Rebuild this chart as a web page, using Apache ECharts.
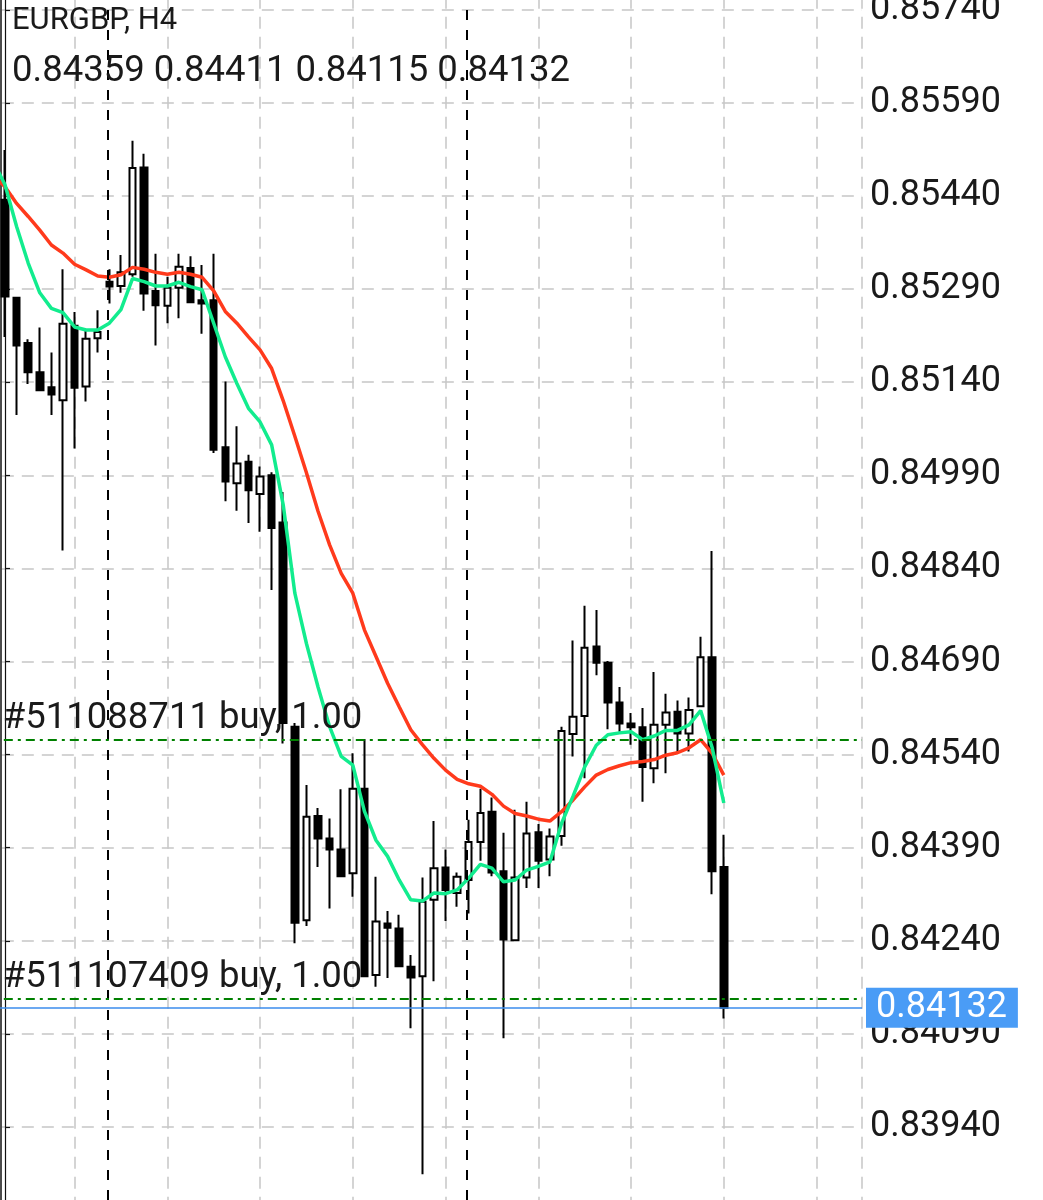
<!DOCTYPE html>
<html>
<head>
<meta charset="utf-8">
<script src="https://cdn.jsdelivr.net/npm/echarts@6/dist/echarts.min.js"></script>
<style>
html,body{margin:0;padding:0;background:#ffffff;}
#chart{width:1043px;height:1200px;}
</style>
</head>
<body>
<div id="chart"></div>
<script>
// ---- data (EURGBP H4) ----
const symbolTitle = 'EURGBP, H4';

const opens = [0.85434,0.85276,0.85203,0.85156,0.85132,0.85111,0.85231,0.85133,0.85211,0.85302,
0.85295,0.85314,0.85486,0.85287,0.85263,0.85292,0.85324,0.85272,0.85272,0.85035,
0.84977,0.85012,0.84960,0.84990,0.84914,0.84585,0.84273,0.84441,0.84405,0.84387,
0.84349,0.84485,0.84185,0.84268,0.84260,0.84198,0.84183,0.84306,0.84358,0.84317,
0.84338,0.84399,0.84448,0.84352,0.84241,0.84342,0.84415,0.84371,0.84409,0.84573,
0.84602,0.84714,0.84688,0.84624,0.84590,0.84584,0.84518,0.84588,0.84609,0.84574,
0.84618,0.84697,0.84359];
const highs = [0.85514,0.85277,0.85209,0.85228,0.85188,0.85322,0.85253,0.85224,0.85256,0.85322,
0.85345,0.85529,0.85508,0.85347,0.85310,0.85347,0.85343,0.85329,0.85347,0.85141,
0.85069,0.85023,0.85004,0.84995,0.84963,0.84591,0.84491,0.84454,0.84437,0.84484,
0.84542,0.84565,0.84343,0.84288,0.84282,0.84217,0.84342,0.84433,0.84387,0.84350,
0.84435,0.84485,0.84471,0.84414,0.84451,0.84464,0.84428,0.84421,0.84585,0.84724,
0.84780,0.84773,0.84691,0.84649,0.84607,0.84615,0.84673,0.84638,0.84627,0.84632,
0.84730,0.84868,0.84411];
const lows = [0.85213,0.85087,0.85137,0.85126,0.85087,0.84869,0.85033,0.85109,0.85188,0.85267,
0.85284,0.85310,0.85255,0.85199,0.85235,0.85243,0.85268,0.85218,0.85026,0.84948,
0.84933,0.84913,0.84899,0.84805,0.84558,0.84236,0.84264,0.84359,0.84292,0.84343,
0.84311,0.84182,0.84166,0.84180,0.84198,0.84099,0.83864,0.84175,0.84272,0.84295,
0.84284,0.84369,0.84344,0.84083,0.84240,0.84325,0.84325,0.84344,0.84393,0.84537,
0.84502,0.84668,0.84581,0.84577,0.84556,0.84464,0.84494,0.84510,0.84542,0.84545,
0.84617,0.84315,0.84115];
const closes = [0.85278,0.85199,0.85156,0.85127,0.85120,0.85234,0.85131,0.85210,0.85221,0.85294,
0.85317,0.85485,0.85283,0.85264,0.85292,0.85326,0.85269,0.85267,0.85031,0.84980,
0.85009,0.84966,0.84988,0.84905,0.84591,0.84269,0.84440,0.84405,0.84387,0.84344,
0.84485,0.84183,0.84271,0.84261,0.84199,0.84181,0.84303,0.84357,0.84322,0.84343,
0.84399,0.84446,0.84350,0.84242,0.84342,0.84413,0.84369,0.84408,0.84578,0.84601,
0.84712,0.84688,0.84624,0.84590,0.84584,0.84520,0.84588,0.84608,0.84574,0.84612,
0.84697,0.84352,0.84132];

// moving averages (first value belongs to the bar just left of the window)
const maStart = -1;
const maFast = [0.85495,0.85458,0.85391,0.85332,0.85284,0.85259,0.85252,0.85229,0.85224,0.85224,
0.85235,0.85257,0.85307,0.85302,0.85295,0.85295,0.85301,0.85294,0.85289,0.85235,
0.85181,0.85138,0.85098,0.85076,0.85039,0.84942,0.84800,0.84719,0.84649,0.84585,
0.84537,0.84523,0.84449,0.84402,0.84376,0.84338,0.84306,0.84304,0.84317,0.84316,
0.84322,0.84341,0.84363,0.84357,0.84335,0.84338,0.84354,0.84360,0.84367,0.84429,
0.84473,0.84520,0.84555,0.84572,0.84575,0.84577,0.84564,0.84570,0.84579,0.84579,
0.84588,0.84611,0.84551,0.84462];
const maSlow = [0.85472,0.85455,0.85428,0.85407,0.85385,0.85361,0.85348,0.85330,0.85321,0.85311,
0.85309,0.85313,0.85325,0.85322,0.85317,0.85314,0.85317,0.85314,0.85309,0.85287,
0.85254,0.85235,0.85213,0.85192,0.85162,0.85110,0.85053,0.84994,0.84932,0.84878,
0.84832,0.84800,0.84741,0.84698,0.84655,0.84617,0.84580,0.84556,0.84534,0.84515,
0.84500,0.84493,0.84489,0.84476,0.84457,0.84445,0.84441,0.84436,0.84433,0.84448,
0.84467,0.84488,0.84507,0.84516,0.84522,0.84527,0.84529,0.84532,0.84539,0.84543,
0.84551,0.84564,0.84542,0.84507];

// open positions
const orderTickets = ['#511088711', '#511107409'];
const orderSides = ['buy', 'buy'];
const orderLots = ['1.00', '1.00'];
const orderPrices = [0.84564, 0.84147];

// period (week) separators, in bar units
const separators = [8.82, 39.82];

// price axis ticks
const priceMin = 0.83790, priceMax = 0.85890, priceStep = 0.00150;

// ---- build chart ----
const FONT = 'Roboto';
const last = closes.length - 1;
const candleData = opens.map((o, i) => [i, o, closes[i], lows[i], highs[i]]);
const fastData = maFast.map((v, i) => [i + maStart, v]);
const slowData = maSlow.map((v, i) => [i + maStart, v]);
const ohlcText = [opens[last], highs[last], lows[last], closes[last]].map(v => v.toFixed(5)).join(' ');

const markData = [];
separators.forEach(x => markData.push({
  xAxis: x,
  lineStyle: {color: '#000000', width: 2, type: [10, 10]},
  label: {show: false}
}));
orderPrices.forEach((p, k) => markData.push({
  yAxis: p,
  lineStyle: {color: '#008000', width: 2, type: [9, 5, 3, 5]},
  label: {
    show: true,
    position: 'insideStartTop',
    distance: [21, 2],
    formatter: orderTickets[k] + ' ' + orderSides[k] + ', ' + orderLots[k],
    color: '#1a1a1a', fontSize: 36.5, fontFamily: FONT
  }
}));
markData.push({
  yAxis: closes[last],
  lineStyle: {color: '#3b8ced', width: 1.5, type: 'solid'},
  label: {
    show: true, position: 'end', distance: 4,
    formatter: closes[last].toFixed(5),
    color: '#ffffff', backgroundColor: '#4a9cf6',
    fontSize: 36, fontFamily: FONT, lineHeight: 38,
    padding: [1, 11, 1, 10]
  }
});

const chart = echarts.init(document.getElementById('chart'), null, {renderer: 'canvas'});
chart.setOption({
  animation: false,
  backgroundColor: '#ffffff',
  title: [
    {text: symbolTitle, left: 12, top: 6, padding: 0,
     textStyle: {fontSize: 31, fontWeight: 'normal', color: '#1a1a1a', fontFamily: FONT}},
    {text: ohlcText, left: 12, top: 53, padding: 0,
     textStyle: {fontSize: 36.5, fontWeight: 'normal', color: '#1a1a1a', fontFamily: FONT}}
  ],
  grid: {left: -18.19, right: 181, top: -83.3, bottom: -20.1, containLabel: false, outerBoundsMode: 'none'},
  xAxis: {
    type: 'value', min: -2, max: 73.92, interval: 8,
    axisLine: {show: false}, axisTick: {show: false}, axisLabel: {show: false},
    splitLine: {show: true, lineStyle: {color: '#c6c6c6', width: 1.5, type: [12, 8]}}
  },
  yAxis: [
    {
      type: 'value', position: 'right', min: priceMin, max: priceMax, interval: priceStep,
      axisLine: {show: true, lineStyle: {color: '#111111', width: 1.2}},
      axisTick: {show: true, length: 5, lineStyle: {color: '#111111', width: 1.2}},
      axisLabel: {show: true, margin: 8, color: '#1a1a1a', fontSize: 36, fontFamily: FONT,
                  formatter: v => v.toFixed(5)},
      splitLine: {show: true, lineStyle: {color: '#c6c6c6', width: 1.5, type: [12, 8]}}
    },
    {
      type: 'value', position: 'left', offset: -19.2, min: priceMin, max: priceMax,
      axisLine: {show: true, lineStyle: {color: '#111111', width: 1.5}},
      axisTick: {show: false}, axisLabel: {show: false}, splitLine: {show: false}
    }
  ],
  series: [
    {
      type: 'candlestick', name: 'EURGBP',
      data: candleData,
      encode: {x: 0, y: [1, 2, 3, 4]},
      barWidth: 7,
      itemStyle: {color: '#ffffff', color0: '#000000', borderColor: '#000000', borderColor0: '#000000', borderWidth: 2},
      z: 2,
      markLine: {silent: true, symbol: ['none', 'none'], animation: false, precision: 5, data: markData}
    },
    {
      type: 'line', name: 'MA fast', data: fastData, showSymbol: false, symbol: 'none',
      lineStyle: {color: '#12ec8e', width: 3.5}, z: 4, silent: true
    },
    {
      type: 'line', name: 'MA slow', data: slowData, showSymbol: false, symbol: 'none',
      lineStyle: {color: '#ff3a1c', width: 3.5}, z: 3, silent: true
    }
  ]
});
</script>
</body>
</html>
